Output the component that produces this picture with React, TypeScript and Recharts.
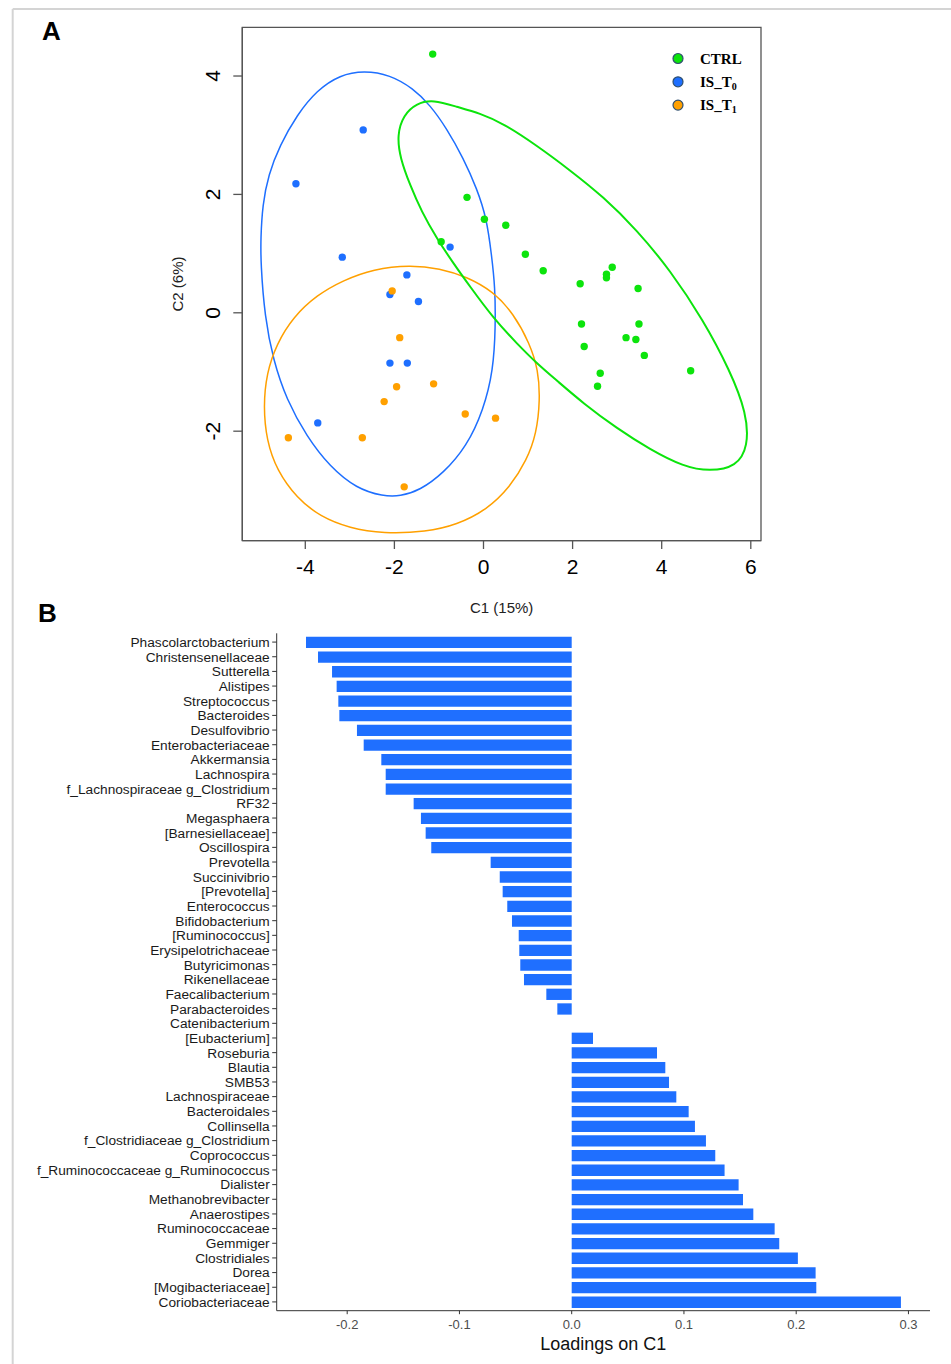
import React from "react";
import {
  ComposedChart,
  BarChart,
  Bar,
  Line,
  Scatter,
  XAxis,
  YAxis,
  Legend,
  Label,
  ReferenceArea,
} from "recharts";

const FONT = "'Liberation Sans', Arial, Helvetica, sans-serif";
const SERIF = "'Liberation Serif', 'Times New Roman', serif";

const GREEN = "#0ce40c";
const BLUE = "#1e6fff";
const ORANGE = "#ffa000";
const BAR_BLUE = "#1f6fff";

// ---- panel A: sample scores on C1 / C2 ----
const c1Ticks = [-4, -2, 0, 2, 4, 6];
const c2Ticks = [-2, 0, 2, 4];

const ctrlPoints = [
  { x: -1.14, y: 4.37 }, { x: -0.37, y: 1.95 }, { x: 0.02, y: 1.58 },
  { x: 0.5, y: 1.48 }, { x: -0.95, y: 1.2 }, { x: 0.94, y: 0.99 },
  { x: 1.34, y: 0.71 }, { x: 2.17, y: 0.49 }, { x: 2.89, y: 0.77 },
  { x: 2.76, y: 0.65 }, { x: 2.76, y: 0.59 }, { x: 3.47, y: 0.41 },
  { x: 2.2, y: -0.19 }, { x: 3.49, y: -0.19 }, { x: 3.2, y: -0.42 },
  { x: 3.42, y: -0.45 }, { x: 2.26, y: -0.57 }, { x: 3.61, y: -0.72 },
  { x: 2.62, y: -1.02 }, { x: 2.56, y: -1.24 }, { x: 4.65, y: -0.98 },
];

const isT0Points = [
  { x: -2.7, y: 3.09 }, { x: -4.21, y: 2.18 }, { x: -3.17, y: 0.94 },
  { x: -0.75, y: 1.11 }, { x: -1.72, y: 0.64 }, { x: -2.1, y: 0.31 },
  { x: -1.46, y: 0.19 }, { x: -2.1, y: -0.85 }, { x: -1.71, y: -0.85 },
  { x: -3.72, y: -1.86 },
];

const isT1Points = [
  { x: -2.05, y: 0.37 }, { x: -1.88, y: -0.42 }, { x: -1.95, y: -1.25 },
  { x: -1.12, y: -1.2 }, { x: -2.23, y: -1.5 }, { x: -0.41, y: -1.71 },
  { x: 0.27, y: -1.78 }, { x: -4.38, y: -2.11 }, { x: -2.72, y: -2.11 },
  { x: -1.78, y: -2.94 },
];

// ellipse outlines (closed, clockwise)
const ctrlEllipse = [
  { x: -1.13, y: 3.6 }, { x: -0.6, y: 3.48 }, { x: -0.08, y: 3.37 },
  { x: 0.44, y: 3.2 }, { x: 1.19, y: 2.83 }, { x: 1.94, y: 2.41 },
  { x: 2.69, y: 1.96 }, { x: 3.44, y: 1.4 }, { x: 4.19, y: 0.72 },
  { x: 4.93, y: -0.12 }, { x: 5.53, y: -0.97 }, { x: 5.91, y: -1.7 },
  { x: 5.94, y: -2.26 }, { x: 5.68, y: -2.6 }, { x: 5.08, y: -2.68 },
  { x: 4.49, y: -2.6 }, { x: 3.74, y: -2.31 }, { x: 2.99, y: -1.95 },
  { x: 2.24, y: -1.53 }, { x: 1.64, y: -1.14 }, { x: 1.19, y: -0.85 },
  { x: 0.75, y: -0.52 }, { x: 0.22, y: -0.09 }, { x: -0.3, y: 0.44 },
  { x: -0.68, y: 0.84 }, { x: -1.05, y: 1.26 }, { x: -1.39, y: 1.71 },
  { x: -1.65, y: 2.16 }, { x: -1.87, y: 2.61 }, { x: -1.94, y: 3.0 },
  { x: -1.8, y: 3.34 }, { x: -1.5, y: 3.54 },
];

const isT0Ellipse = [
  { x: -2.68, y: 4.09 }, { x: -2.1, y: 4.02 }, { x: -1.58, y: 3.79 },
  { x: -1.2, y: 3.51 }, { x: -0.83, y: 3.12 }, { x: -0.45, y: 2.61 },
  { x: -0.15, y: 2.1 }, { x: 0.07, y: 1.6 }, { x: 0.18, y: 0.98 },
  { x: 0.26, y: 0.44 }, { x: 0.27, y: -0.24 }, { x: 0.22, y: -0.97 },
  { x: 0.0, y: -1.64 }, { x: -0.38, y: -2.26 }, { x: -0.9, y: -2.71 },
  { x: -1.43, y: -3.0 }, { x: -1.87, y: -3.1 }, { x: -2.25, y: -3.1 },
  { x: -2.85, y: -2.97 }, { x: -3.45, y: -2.6 }, { x: -3.97, y: -2.09 },
  { x: -4.42, y: -1.47 }, { x: -4.72, y: -0.8 }, { x: -4.91, y: -0.07 },
  { x: -5.0, y: 0.84 }, { x: -5.0, y: 1.26 }, { x: -4.96, y: 1.82 },
  { x: -4.83, y: 2.33 }, { x: -4.57, y: 2.83 }, { x: -4.19, y: 3.34 },
  { x: -3.74, y: 3.76 }, { x: -3.22, y: 4.02 },
];

const isT1Ellipse = [
  { x: -1.65, y: 0.81 }, { x: -0.98, y: 0.75 }, { x: -0.38, y: 0.61 },
  { x: 0.22, y: 0.36 }, { x: 0.67, y: -0.01 }, { x: 1.04, y: -0.52 },
  { x: 1.23, y: -0.97 }, { x: 1.27, y: -1.47 }, { x: 1.19, y: -2.04 },
  { x: 0.97, y: -2.49 }, { x: 0.6, y: -2.94 }, { x: 0.07, y: -3.33 },
  { x: -0.6, y: -3.58 }, { x: -1.28, y: -3.7 }, { x: -2.25, y: -3.73 },
  { x: -3.0, y: -3.64 }, { x: -3.67, y: -3.44 }, { x: -4.19, y: -3.13 },
  { x: -4.64, y: -2.66 }, { x: -4.87, y: -2.15 }, { x: -4.94, y: -1.59 },
  { x: -4.87, y: -1.02 }, { x: -4.64, y: -0.52 }, { x: -4.27, y: -0.07 },
  { x: -3.74, y: 0.3 }, { x: -3.15, y: 0.55 }, { x: -2.47, y: 0.74 },
];

const legendGroups = [
  { name: "CTRL", sub: "", color: GREEN },
  { name: "IS_T", sub: "0", color: BLUE },
  { name: "IS_T", sub: "1", color: ORANGE },
];

// ---- panel B: loadings on C1 ----
const taxa = [
  "Phascolarctobacterium", "Christensenellaceae", "Sutterella", "Alistipes",
  "Streptococcus", "Bacteroides", "Desulfovibrio", "Enterobacteriaceae",
  "Akkermansia", "Lachnospira", "f_Lachnospiraceae g_Clostridium", "RF32",
  "Megasphaera", "[Barnesiellaceae]", "Oscillospira", "Prevotella",
  "Succinivibrio", "[Prevotella]", "Enterococcus", "Bifidobacterium",
  "[Ruminococcus]", "Erysipelotrichaceae", "Butyricimonas", "Rikenellaceae",
  "Faecalibacterium", "Parabacteroides", "Catenibacterium", "[Eubacterium]",
  "Roseburia", "Blautia", "SMB53", "Lachnospiraceae", "Bacteroidales",
  "Collinsella", "f_Clostridiaceae g_Clostridium", "Coprococcus",
  "f_Ruminococcaceae g_Ruminococcus", "Dialister", "Methanobrevibacter",
  "Anaerostipes", "Ruminococcaceae", "Gemmiger", "Clostridiales", "Dorea",
  "[Mogibacteriaceae]", "Coriobacteriaceae",
];

const loadings = [
  -0.2367, -0.226, -0.2135, -0.2094, -0.2079, -0.207, -0.1913, -0.1853,
  -0.1696, -0.1657, -0.1657, -0.1408, -0.1343, -0.1301, -0.1251, -0.0722,
  -0.0641, -0.0615, -0.0574, -0.0532, -0.0472, -0.0467, -0.0458, -0.0425,
  -0.0226, -0.0128, 0.0, 0.019, 0.076, 0.0834, 0.0867, 0.0932, 0.1042,
  0.1098, 0.1196, 0.1279, 0.1362, 0.1487, 0.1526, 0.1618, 0.1808, 0.1849,
  0.2015, 0.2173, 0.2179, 0.2933,
];

const loadingTicks = [-0.2, -0.1, 0, 0.1, 0.2, 0.3];

const loadingData = taxa.map((taxon, i) => ({ taxon, value: loadings[i] }));

const dot = (color: string) => (props: any) =>
  <circle cx={props.cx} cy={props.cy} r={3.7} fill={color} />;

function RotatedTick(props: any) {
  const { x, y, payload } = props;
  return (
    <text
      x={x}
      y={y}
      transform={`rotate(-90 ${x} ${y})`}
      textAnchor="middle"
      fontSize={21}
      fontFamily={FONT}
      fill="#000"
    >
      {payload.value}
    </text>
  );
}

function GroupLegend() {
  return (
    <svg width={110} height={75}>
      {legendGroups.map((g, i) => (
        <g key={i}>
          <circle cx={13} cy={13.5 + i * 23.3} r={5} fill={g.color} stroke="#2f4f6f" strokeWidth={1.2} />
          <text x={35} y={18.7 + i * 23.3} fontFamily={SERIF} fontWeight="bold" fontSize={15} fill="#000">
            {g.name}
            {g.sub && <tspan fontSize={10} dy={3}>{g.sub}</tspan>}
          </text>
        </g>
      ))}
    </svg>
  );
}

export default function App() {
  const c1Domain = [-5.414, 6.229];
  const c2Domain = [-3.85, 4.823];

  return (
    <div style={{ position: "absolute", left: 0, top: 0, width: 951, height: 1364, background: "#fff" }}>
      <svg width={951} height={1364} style={{ position: "absolute", left: 0, top: 0 }}>
        <line x1={12.7} y1={9} x2={951} y2={9} stroke="#d4d4d4" strokeWidth={2} />
        <line x1={12.7} y1={9} x2={12.7} y2={1364} stroke="#d4d4d4" strokeWidth={2} />
        <text x={42} y={40} fontFamily={FONT} fontWeight="bold" fontSize={26} fill="#000">A</text>
        <text x={38} y={622} fontFamily={FONT} fontWeight="bold" fontSize={26} fill="#000">B</text>
      </svg>

      <div style={{ position: "absolute", left: 0, top: 0 }}>
        <ComposedChart width={951} height={620} margin={{ top: 27.3, right: 190, left: 0, bottom: 0 }}>
          <XAxis
            type="number"
            dataKey="x"
            domain={c1Domain}
            allowDataOverflow
            ticks={c1Ticks}
            height={79.3}
            tickSize={8.3}
            tickMargin={10}
            stroke="#555"
            strokeWidth={1.3}
            tick={{ fill: "#000", fontSize: 21, fontFamily: FONT }}
          >
            <Label value="C1 (15%)" position="insideBottom" offset={7.5} fill="#222" fontSize={15} fontFamily={FONT} />
          </XAxis>
          <YAxis
            type="number"
            dataKey="y"
            domain={c2Domain}
            allowDataOverflow
            ticks={c2Ticks}
            width={242.3}
            tickSize={9}
            tickMargin={13}
            stroke="#555"
            strokeWidth={1.3}
            tick={<RotatedTick />}
          >
            <Label
              value="C2 (6%)"
              angle={-90}
              position="insideLeft"
              offset={178}
              fill="#222"
              fontSize={15}
              fontFamily={FONT}
              style={{ textAnchor: "middle" }}
            />
          </YAxis>

          {/* plot frame */}
          <ReferenceArea
            x1={c1Domain[0]}
            x2={c1Domain[1]}
            y1={c2Domain[0]}
            y2={c2Domain[1]}
            fill="none"
            fillOpacity={0}
            stroke="#555"
            strokeWidth={1.3}
            ifOverflow="visible"
          />

          <Line data={isT0Ellipse} dataKey="y" type="basisClosed" stroke={BLUE} strokeWidth={1.5}
            dot={false} activeDot={false} legendType="none" isAnimationActive={false} />
          <Line data={isT1Ellipse} dataKey="y" type="basisClosed" stroke={ORANGE} strokeWidth={1.5}
            dot={false} activeDot={false} legendType="none" isAnimationActive={false} />
          <Line data={ctrlEllipse} dataKey="y" type="basisClosed" stroke={GREEN} strokeWidth={2}
            dot={false} activeDot={false} legendType="none" isAnimationActive={false} />

          <Scatter data={ctrlPoints} fill={GREEN} shape={dot(GREEN)} isAnimationActive={false} />
          <Scatter data={isT0Points} fill={BLUE} shape={dot(BLUE)} isAnimationActive={false} />
          <Scatter data={isT1Points} fill={ORANGE} shape={dot(ORANGE)} isAnimationActive={false} />

          <Legend
            layout="vertical"
            align="center"
            verticalAlign="middle"
            content={<GroupLegend />}
            wrapperStyle={{ left: 665, top: 45, width: 110, height: 75 }}
          />
        </ComposedChart>
      </div>

      <div style={{ position: "absolute", left: 0, top: 620 }}>
        <BarChart
          width={951}
          height={744}
          data={loadingData}
          layout="vertical"
          margin={{ top: 13.3, right: 21, left: 0, bottom: 0 }}
          barSize={11.3}
        >
          <XAxis
            type="number"
            dataKey="value"
            domain={[-0.2628, 0.3192]}
            allowDataOverflow
            ticks={loadingTicks}
            tickFormatter={(v: number) => v.toFixed(1)}
            height={53.3}
            tickSize={3.5}
            tickMargin={6}
            stroke="#333"
            tick={{ fill: "#4d4d4d", fontSize: 13, fontFamily: FONT }}
          >
            <Label value="Loadings on C1" position="insideBottom" offset={14.5} fill="#111" fontSize={18} fontFamily={FONT} />
          </XAxis>
          <YAxis
            type="category"
            dataKey="taxon"
            width={276.7}
            interval={0}
            tickSize={4.5}
            tickMargin={2.5}
            padding={{ top: 1.45, bottom: 1.45 }}
            stroke="#333"
            tick={{ fill: "#1a1a1a", fontSize: 13.7, fontFamily: FONT }}
          />
          <Bar dataKey="value" fill={BAR_BLUE} isAnimationActive={false} />
        </BarChart>
      </div>
    </div>
  );
}
